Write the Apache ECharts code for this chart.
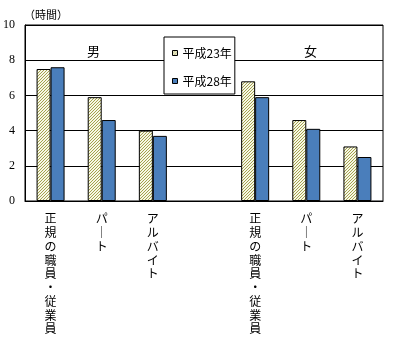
<!DOCTYPE html>
<html><head><meta charset="utf-8">
<script src="https://cdn.jsdelivr.net/npm/echarts@6/dist/echarts.min.js"></script>
<style>html,body{margin:0;padding:0;background:#fff}#c{width:393px;height:344px}</style>
</head><body><div id="c"></div>
<script>
var categories = ['正規の職員・従業員','パート','アルバイト','','正規の職員・従業員','パート','アルバイト'];
var seriesNames = ['平成23年','平成28年'];
var values2011 = [7.5, 5.9, 4.0, null, 6.8, 4.6, 3.1];
var values2016 = [7.6, 4.6, 3.7, null, 5.9, 4.1, 2.5];
var yTicks = [0, 2, 4, 6, 8, 10];
var groupLabels = ['男', '女'];

var jp = '"Noto Sans CJK JP", sans-serif';

var pc = document.createElement('canvas');
pc.width = 3; pc.height = 3;
var g = pc.getContext('2d');
g.fillStyle = '#f7f7e6'; g.fillRect(0,0,3,3);
g.fillStyle = '#a3a24e';
g.fillRect(2,0,1,1); g.fillRect(1,1,1,1); g.fillRect(0,2,1,1);
var hatch = {image: pc, repeat: 'repeat'};

var chart = echarts.init(document.getElementById('c'), null, {renderer: 'canvas'});
chart.setOption({
  animation: false,
  backgroundColor: '#fff',
  grid: {left: 23, right: 10, top: 25, bottom: 143, show: true, borderColor: '#000', borderWidth: 1, backgroundColor: 'transparent'},
  legend: {
    orient: 'vertical', left: 164, top: 37,
    padding: [10, 3, 7, 8], itemGap: 16,
    itemWidth: 5, itemHeight: 5, icon: 'rect',
    itemStyle: {borderWidth: 1, borderColor: '#000'},
    backgroundColor: '#fff', borderColor: '#000', borderWidth: 1,
    textStyle: {fontFamily: jp, fontSize: 12, color: '#000'},
    data: seriesNames
  },
  xAxis: {
    type: 'category', data: categories,
    axisLine: {lineStyle: {color: '#000'}},
    axisTick: {show: false},
    axisLabel: {
      interval: 0, margin: 11, fontFamily: jp, fontSize: 12, color: '#000', lineHeight: 13.75,
      verticalAlign: 'top',
      formatter: function (v) { return v.split('').map(function(c){return c === 'ー' ? '｜' : c;}).join('\n'); }
    }
  },
  yAxis: {
    type: 'value', min: 0, max: 10, interval: 2,
    axisLine: {show: true, lineStyle: {color: '#000'}},
    axisTick: {show: false},
    splitLine: {lineStyle: {color: '#000', width: 1}},
    axisLabel: {margin: 10, fontFamily: '"Liberation Serif", serif', fontSize: 12, color: '#000',
      formatter: function (v) { return yTicks.indexOf(v) >= 0 ? String(v) : ''; }}
  },
  series: [
    {name: seriesNames[0], type: 'bar', data: values2011, barWidth: 14, barGap: '0%',
     itemStyle: {color: hatch, borderColor: '#000', borderWidth: 1}},
    {name: seriesNames[1], type: 'bar', data: values2016, barWidth: 14,
     itemStyle: {color: '#4a7ebb', borderColor: '#000', borderWidth: 1}}
  ],
  graphic: [
    {type: 'text', left: 24, top: 9, style: {text: '（時間）', font: '11px "Noto Sans CJK JP"', fill: '#000'}},
    {type: 'text', left: 87, top: 45, style: {text: groupLabels[0], font: '13px "Noto Sans CJK JP"', fill: '#000'}},
    {type: 'text', left: 304, top: 45, style: {text: groupLabels[1], font: '13px "Noto Sans CJK JP"', fill: '#000'}}
  ]
});
</script></body></html>
